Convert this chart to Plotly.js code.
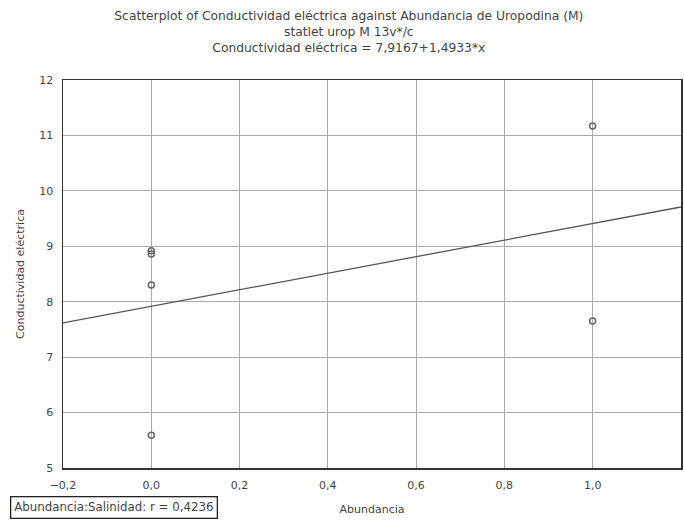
<!DOCTYPE html>
<html>
<head>
<meta charset="utf-8">
<script src="https://cdn.plot.ly/plotly-3.0.1.min.js"></script>
<style>html,body{margin:0;padding:0;background:#fff;}#chart{width:684px;height:521px;}</style>
</head>
<body>
<div id="chart"></div>
<script>
// Data
const abundancia = [0, 0, 0, 0, 1, 1];
const conductividad = [8.92, 8.86, 8.30, 5.59, 11.17, 7.65];
const intercept = 7.9167;
const slope = 1.4933;
const lineX = [-0.2, 1.2];
const xTicks = [-0.2, 0, 0.2, 0.4, 0.6, 0.8, 1.0, 1.2];
const yTicks = [5, 6, 7, 8, 9, 10, 11, 12];
const titleLines = [
  "Scatterplot of Conductividad eléctrica against Abundancia de Uropodina (M)",
  "statlet urop M 13v*/c",
  "Conductividad eléctrica = 7,9167+1,4933*x"
];
const rLabel = "Abundancia:Salinidad: r = 0,4236";

const lineY = lineX.map(x => intercept + slope * x);
const txtColor = '#444';
const fam = 'DejaVu Sans, Arial, sans-serif';
const font = {family: fam, size: 11, color: txtColor};

const traces = [
  {
    x: lineX, y: lineY, mode: 'lines', type: 'scatter',
    line: {color: '#555', width: 1.3}, hoverinfo: 'skip', showlegend: false
  },
  {
    x: abundancia, y: conductividad, mode: 'markers', type: 'scatter',
    marker: {symbol: 'circle-open', size: 6, color: '#666', line: {width: 1.5, color: '#666'}},
    showlegend: false
  }
];

const layout = {
  width: 684, height: 521,
  margin: {l: 63, r: 3, t: 80, b: 53},
  paper_bgcolor: '#fff', plot_bgcolor: '#fff',
  separators: ',.',
  font: font,
  showlegend: false,
  title: {
    text: titleLines.join('<br>'),
    x: 0.51, xref: 'container', xanchor: 'center',
    y: 0.962, yref: 'container', yanchor: 'top',
    font: {family: fam, size: 12.3, color: txtColor}
  },
  xaxis: {
    range: [-0.2, 1.2002], tickvals: xTicks, tickformat: '.1f',
    showgrid: true, gridcolor: '#aaa', gridwidth: 1,
    showline: true, linecolor: '#333', linewidth: 1.5, mirror: true,
    zeroline: false, ticks: '', ticklabelstandoff: 6,
    tickfont: {family: fam, size: 11, color: txtColor},
    title: {text: 'Abundancia', standoff: 14, font: {family: fam, size: 11, color: txtColor}}
  },
  yaxis: {
    range: [5, 12], tickvals: yTicks,
    showgrid: true, gridcolor: '#aaa', gridwidth: 1,
    showline: true, linecolor: '#333', linewidth: 1.5, mirror: true,
    zeroline: false, ticks: '', ticklabelstandoff: 6,
    tickfont: {family: fam, size: 11, color: txtColor},
    title: {text: 'Conductividad eléctrica', standoff: 12, font: {family: fam, size: 11, color: txtColor}}
  },
  annotations: [{
    text: rLabel, xref: 'paper', yref: 'paper', x: -0.085, y: -0.103,
    xanchor: 'left', yanchor: 'middle', showarrow: false,
    bordercolor: '#222', borderwidth: 1.3, borderpad: 3, bgcolor: '#fff',
    font: {family: fam, size: 11.8, color: txtColor}
  }]
};

Plotly.newPlot('chart', traces, layout, {displayModeBar: false, staticPlot: true});
</script>
</body>
</html>
